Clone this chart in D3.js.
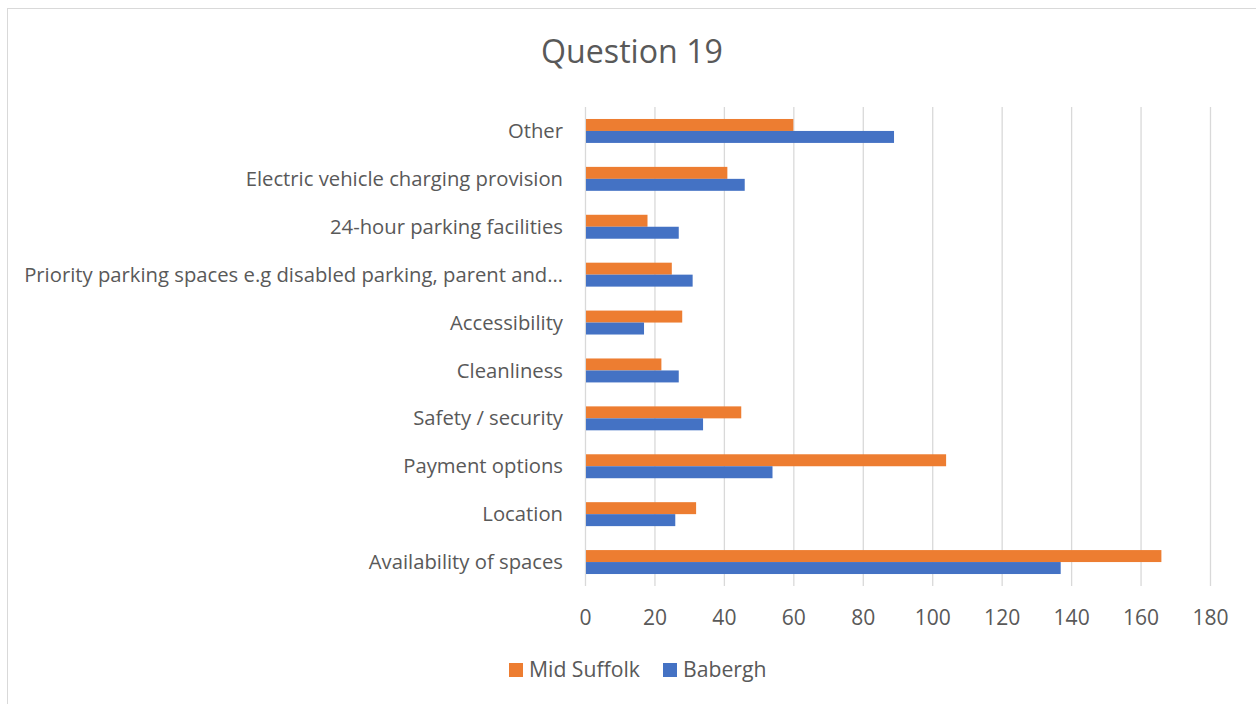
<!DOCTYPE html>
<html>
<head>
<meta charset="utf-8">
<script src="https://cdn.jsdelivr.net/npm/d3@7"></script>
<style>
  html, body { margin: 0; padding: 0; background: #fff; }
  svg { display: block; }
  text { font-family: "Open Sans", Lato, sans-serif; fill: #595959; }
</style>
</head>
<body>
<svg id="chart" width="1256" height="704"></svg>
<script>
// Survey responses, Question 19 (top to bottom as drawn)
const categories = [
  "Other",
  "Electric vehicle charging provision",
  "24-hour parking facilities",
  "Priority parking spaces e.g disabled parking, parent and…",
  "Accessibility",
  "Cleanliness",
  "Safety / security",
  "Payment options",
  "Location",
  "Availability of spaces"
];
const midSuffolk = [60, 41, 18, 25, 28, 22, 45, 104, 32, 166];
const babergh    = [89, 46, 27, 31, 17, 27, 34, 54, 26, 137];
const seriesNames = ["Mid Suffolk", "Babergh"];
const seriesColors = ["#ed7d31", "#4472c4"];
const xTicks = [0, 20, 40, 60, 80, 100, 120, 140, 160, 180];

const svg = d3.select("#chart");
const W = 1256, H = 704;

// size a font so that a sample string spans a given width
function fitSize(str, width) {
  const t = svg.append("text").style("font-size", "20px").text(str);
  const w = t.node().getComputedTextLength();
  t.remove();
  return 20 * width / w;
}
const labelSize = fitSize(categories[3], 539);
const titleSize = fitSize("Question 19", 182);
const legendSize = fitSize("Mid Suffolk", 111);

// chart frame
svg.append("rect")
  .attr("x", 7.5).attr("y", 8.5)
  .attr("width", W).attr("height", H)
  .attr("fill", "#fff").attr("stroke", "#d9d9d9").attr("stroke-width", 1);

const plot = { left: 585, right: 1210, top: 107, bottom: 586 };

const x = d3.scaleLinear().domain([0, 180]).range([plot.left, plot.right]);
const y = d3.scaleBand().domain(categories).range([plot.top, plot.bottom]).paddingInner(0.5).paddingOuter(0.25);
const sub = d3.scaleBand().domain(seriesNames).range([0, y.bandwidth()]);

// vertical gridlines
svg.append("g").selectAll("line").data(xTicks).join("line")
  .attr("x1", d => x(d) + 0.5).attr("x2", d => x(d) + 0.5)
  .attr("y1", plot.top).attr("y2", plot.bottom)
  .attr("stroke", "#d9d9d9").attr("stroke-width", 1.3);

// bars
const series = [midSuffolk, babergh];
series.forEach((vals, si) => {
  svg.append("g").selectAll("rect").data(categories).join("rect")
    .attr("x", x(0) + 1)
    .attr("y", c => y(c) + sub(seriesNames[si]))
    .attr("width", (c, i) => x(vals[i]) - x(0) - 1)
    .attr("height", sub.bandwidth())
    .attr("fill", seriesColors[si]);
});

// x axis labels
const xAxis = d3.axisBottom(x).tickValues(xTicks).tickSize(0).tickPadding(0);
const xg = svg.append("g").attr("transform", `translate(0,${plot.bottom})`).call(xAxis);
xg.select(".domain").remove();
xg.selectAll("text")
  .attr("y", 39).attr("dy", "0")
  .style("font-size", (labelSize * 1.04) + "px").attr("fill", "#595959");

// category labels
const yAxis = d3.axisLeft(y).tickSize(0).tickPadding(22);
const yg = svg.append("g").attr("transform", `translate(${plot.left},0)`).call(yAxis);
yg.select(".domain").remove();
yg.selectAll("text")
  .attr("dy", "0.35em")
  .style("font-size", labelSize + "px").attr("fill", "#595959");

// title
svg.append("text")
  .attr("x", 632).attr("y", 63)
  .attr("text-anchor", "middle")
  .style("font-size", titleSize + "px")
  .text("Question 19");

// legend
const legend = svg.append("g");
const legendItems = [
  { name: seriesNames[0], color: seriesColors[0], x: 509 },
  { name: seriesNames[1], color: seriesColors[1], x: 663 }
];
legendItems.forEach(it => {
  legend.append("rect").attr("x", it.x).attr("y", 663).attr("width", 14).attr("height", 14).attr("fill", it.color);
  legend.append("text").attr("x", it.x + 20).attr("y", 677)
    .style("font-size", legendSize + "px").text(it.name);
});
</script>
</body>
</html>
